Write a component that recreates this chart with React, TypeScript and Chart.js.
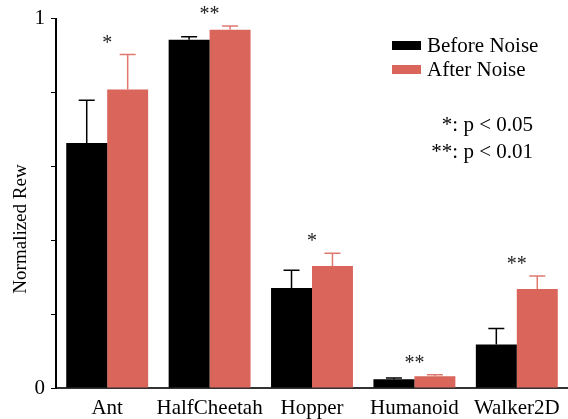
import React, { useEffect, useRef } from "react";
import { Chart, registerables } from "chart.js";

Chart.register(...registerables);

const categories = ["Ant", "HalfCheetah", "Hopper", "Humanoid", "Walker2D"];
const beforeNoise = [0.663, 0.943, 0.271, 0.024, 0.118];
const beforeErr = [0.116, 0.008, 0.048, 0.003, 0.043];
const afterNoise = [0.808, 0.97, 0.33, 0.032, 0.268];
const afterErr = [0.095, 0.01, 0.035, 0.004, 0.035];
const significance = ["*", "**", "*", "**", "**"];
const yTickLabels: Record<string, string> = { "0": "0", "1": "1" };

const BLACK = "#000000";
const RED = "#d9655b";
const RED_ERR = "#e07870";
const FONT = "'Liberation Serif', 'DejaVu Serif', serif";

const overlayPlugin = {
  id: "overlay",
  afterDatasetsDraw(chart: any) {
    const ctx = chart.ctx;
    const y = chart.scales.y;
    const errs = [beforeErr, afterErr];
    const colors = [BLACK, RED_ERR];
    ctx.save();
    // error bars (upper only)
    chart.data.datasets.forEach((ds: any, di: number) => {
      const meta = chart.getDatasetMeta(di);
      meta.data.forEach((bar: any, i: number) => {
        const v = ds.data[i];
        const top = y.getPixelForValue(v + errs[di][i]);
        const base = y.getPixelForValue(v);
        ctx.strokeStyle = colors[di];
        ctx.lineWidth = 1.5;
        ctx.beginPath();
        ctx.moveTo(bar.x, base);
        ctx.lineTo(bar.x, top);
        ctx.moveTo(bar.x - 8, top);
        ctx.lineTo(bar.x + 8, top);
        ctx.stroke();
      });
    });
    // significance stars
    ctx.fillStyle = "#222";
    ctx.font = `20px ${FONT}`;
    ctx.textAlign = "center";
    ctx.textBaseline = "top";
    const x = chart.scales.x;
    categories.forEach((_, i) => {
      const maxTop = Math.max(beforeNoise[i] + beforeErr[i], afterNoise[i] + afterErr[i]);
      const py = y.getPixelForValue(maxTop);
      ctx.fillText(significance[i], x.getPixelForValue(i), py - 21);
    });
    // legend
    const items = [
      { label: "Before Noise", color: BLACK, y: 46 },
      { label: "After Noise", color: RED, y: 70 },
    ];
    ctx.textAlign = "left";
    ctx.textBaseline = "alphabetic";
    ctx.font = `21px ${FONT}`;
    items.forEach((it) => {
      ctx.fillStyle = it.color;
      ctx.fillRect(392, it.y - 5, 29, 9);
      ctx.fillStyle = "#000";
      ctx.fillText(it.label, 427, it.y + 6);
    });
    // p-value notes
    ctx.textAlign = "right";
    ctx.fillText("*: p < 0.05", 533, 131);
    ctx.fillText("**: p < 0.01", 533, 158);
    // y title
    ctx.translate(21, 229);
    ctx.rotate(-Math.PI / 2);
    ctx.textAlign = "center";
    ctx.textBaseline = "middle";
    ctx.font = `19px ${FONT}`;
    ctx.fillText("Normalized Rew", 0, 0);
    ctx.restore();
  },
};

export default function App() {
  const ref = useRef<HTMLCanvasElement>(null);
  useEffect(() => {
    document.body.style.margin = "0";
    const chart = new Chart(ref.current!, {
      type: "bar",
      data: {
        labels: categories,
        datasets: [
          {
            label: "Before Noise",
            data: beforeNoise,
            backgroundColor: BLACK,
            categoryPercentage: 0.8,
            barPercentage: 1,
          },
          {
            label: "After Noise",
            data: afterNoise,
            backgroundColor: RED,
            categoryPercentage: 0.8,
            barPercentage: 1,
          },
        ],
      },
      options: {
        responsive: false,
        animation: false,
        layout: { padding: { top: 16, right: 0, left: 0, bottom: 0 } },
        plugins: { legend: { display: false }, tooltip: { enabled: false } },
        scales: {
          x: {
            afterFit(scale: any) {
              scale.height = 31;
            },
            grid: { display: false },
            border: { display: true, color: "#333", width: 2 },
            ticks: {
              color: "#000",
              font: { family: FONT, size: 21 },
              padding: 0,
              maxRotation: 0,
              autoSkip: false,
            },
          },
          y: {
            min: 0,
            max: 1,
            afterFit(scale: any) {
              scale.width = 56;
            },
            grid: { drawOnChartArea: false, tickLength: 5, color: "#000", lineWidth: 1 },
            border: { display: true, color: "#000", width: 2 },
            ticks: {
              stepSize: 0.2,
              color: "#000",
              padding: 6,
              font: { family: FONT, size: 21 },
              callback: (v: any) => yTickLabels[String(v)] ?? "",
            },
          },
        },
      },
      plugins: [overlayPlugin],
    });
    return () => chart.destroy();
  }, []);
  return (
    <div style={{ width: 568, height: 419 }}>
      <canvas ref={ref} width={568} height={419} style={{ display: "block" }} />
    </div>
  );
}
